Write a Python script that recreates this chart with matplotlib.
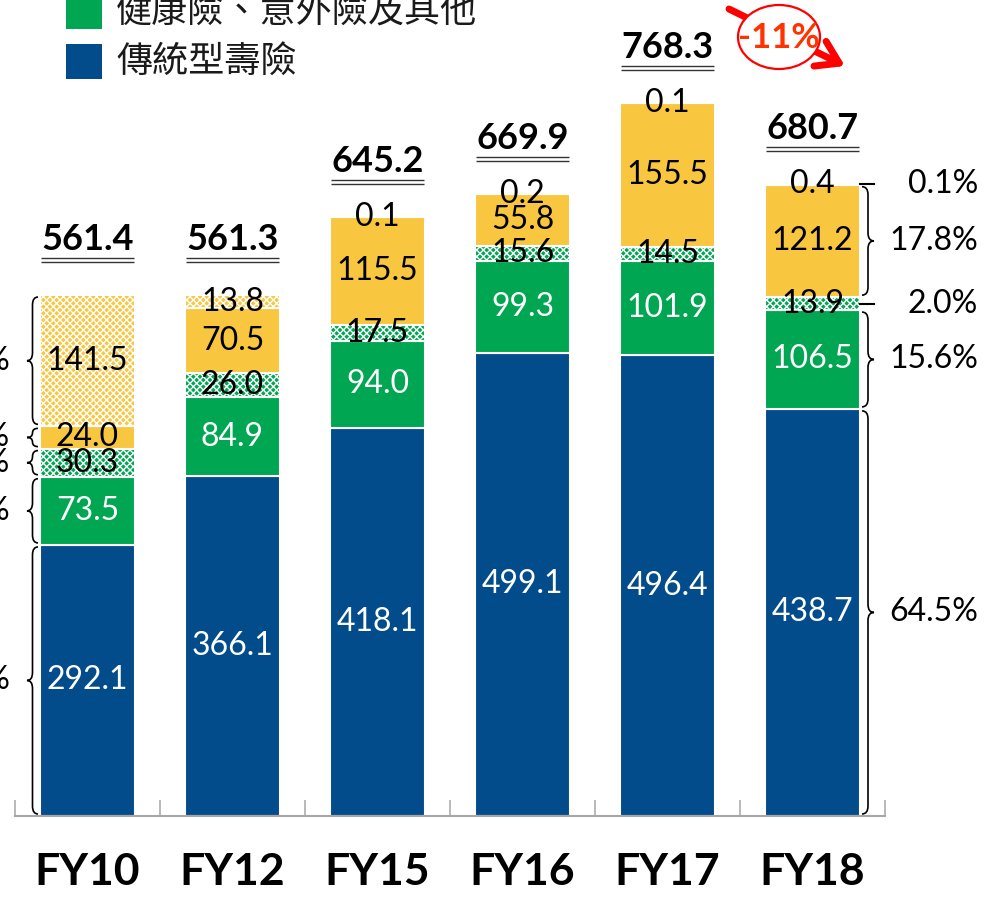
import matplotlib
matplotlib.use("Agg")
import numpy as np
import matplotlib.pyplot as plt
from matplotlib.patches import Ellipse, Rectangle, PathPatch
from matplotlib.path import Path

# fiscal years on the x axis
years = ["FY10", "FY12", "FY15", "FY16", "FY17", "FY18"]

# stacked segments, bottom -> top
traditional = [292.1, 366.1, 418.1, 499.1, 496.4, 438.7]     # 傳統型壽險
health = [73.5, 84.9, 94.0, 99.3, 101.9, 106.5]              # 健康險、意外險及其他
health_hatched = [30.3, 26.0, 17.5, 15.6, 14.5, 13.9]
invest = [24.0, 70.5, 115.5, 55.8, 155.5, 121.2]
invest_hatched = [141.5, 13.8, 0.1, 0.2, 0.1, 0.4]

totals = [561.4, 561.3, 645.2, 669.9, 768.3, 680.7]

# share labels beside the first and last bars (bottom -> top)
fy10_shares = ["52.0%", "13.1%", "5.4%", "4.3%", "25.2%"]
fy18_shares = ["64.5%", "15.6%", "2.0%", "17.8%", "0.1%"]

change_label = "-11%"

BLUE = "#034C8C"
GREEN = "#00A651"
YELLOW = "#F9C63F"
GRAY = "#A6A6A6"

plt.rcParams["font.family"] = ["Lato", "Noto Sans CJK TC", "DejaVu Sans"]
plt.rcParams["hatch.linewidth"] = 1.0

# layout in image pixels
W, H = 1001, 898
AX_L, AX_R = 15, 885
AX_BOTTOM = 816
PX_PER_UNIT = 0.928
YMAX = AX_BOTTOM / PX_PER_UNIT
XU = len(years) / (AX_R - AX_L)   # data x per pixel
YU = 1 / PX_PER_UNIT               # data y per pixel
BAR_W = 95 * XU


def fig_xy(px, py):
    return px / W, 1 - py / H


def brace(ax, x, y0, y1, width, r=8 * YU):
    # curly brace from y0 to y1, tip pointing to the side of width's sign
    r = min(r, (y1 - y0) / 4)
    xm = x + width / 2
    ym = (y0 + y1) / 2
    verts = [(x, y1), (xm, y1), (xm, y1 - r),
             (xm, ym + r), (xm, ym), (x + width, ym),
             (xm, ym), (xm, ym - r),
             (xm, y0 + r), (xm, y0), (x, y0)]
    codes = [Path.MOVETO, Path.CURVE3, Path.CURVE3,
             Path.LINETO, Path.CURVE3, Path.CURVE3,
             Path.CURVE3, Path.CURVE3,
             Path.LINETO, Path.CURVE3, Path.CURVE3]
    ax.add_patch(PathPatch(Path(verts, codes), fill=False, lw=1.2,
                           edgecolor="black", clip_on=False))


fig = plt.figure(figsize=(W / 100, H / 100), dpi=100)
ax = fig.add_axes([AX_L / W, 1 - AX_BOTTOM / H, (AX_R - AX_L) / W, AX_BOTTOM / H])

x = np.arange(len(years))
series = [
    (traditional, BLUE, None, "white"),
    (health, GREEN, None, "white"),
    (health_hatched, GREEN, "xxxxx", "black"),
    (invest, YELLOW, None, "black"),
    (invest_hatched, YELLOW, "xxxxx", "black"),
]

bottom = np.zeros(len(years))
for vals, color, hatch, txt_color in series:
    vals = np.array(vals)
    ax.bar(x, vals, BAR_W, bottom=bottom, color=color, edgecolor="white",
           linewidth=1.5, hatch=hatch)
    for xi, b, v in zip(x, bottom, vals):
        ax.text(xi, b + v / 2, f"{v:.1f}", ha="center", va="center",
                fontsize=23, color=txt_color)
    bottom = bottom + vals

# totals with double underline
for xi, t in zip(x, totals):
    ax.text(xi, t + 56 * YU, f"{t:.1f}", ha="center", va="center",
            fontsize=26, fontweight="bold")
    for off in (37, 33):
        ax.plot([xi - 0.32, xi + 0.32], [t + off * YU] * 2, color="#333333",
                lw=1.0, solid_capstyle="butt")

# segment boundaries for brace annotations
stack = np.vstack([traditional, health, health_hatched, invest, invest_hatched])
tops = np.cumsum(stack, axis=0)
bots = tops - stack

# FY10: braces on the left (labels mostly cut off by the frame)
left_edge = x[0] - BAR_W / 2
base = left_edge - 2 * XU
for i, share in enumerate(fy10_shares):
    y0, y1 = bots[i, 0] + 2 * YU, tops[i, 0] - 2 * YU
    brace(ax, base, y0, y1, -11 * XU)
    ax.text(base - 28 * XU, (y0 + y1) / 2, share, ha="right", va="center",
            fontsize=23)

# FY18: braces / dashes on the right
right_edge = x[-1] + BAR_W / 2
base = right_edge + 2 * XU
tip = base + 12 * XU
for i, share in enumerate(fy18_shares):
    if stack[i, -1] < 20:
        ym = bots[i, -1] + stack[i, -1] / 2
        ax.plot([base - 2 * XU, tip], [ym, ym], color="black", lw=1.5,
                clip_on=False)
    else:
        y0, y1 = bots[i, -1] + 2 * YU, tops[i, -1] - 2 * YU
        brace(ax, base, y0, y1, 12 * XU)
        ym = (y0 + y1) / 2
    ax.text(tip + 104 * XU, ym, share, ha="right", va="center", fontsize=23)

# -11% callout between FY17 and FY18
ax.annotate("", xy=fig_xy(845, 66), xytext=fig_xy(729, 9),
            xycoords="figure fraction", textcoords="figure fraction",
            arrowprops=dict(arrowstyle="->, head_length=0.7, head_width=0.45",
                            color="#FF0000", lw=5, mutation_scale=22,
                            shrinkA=0, shrinkB=0))
cx, cy = fig_xy(779, 37)
fig.add_artist(Ellipse((cx, cy), 82 / W, 64 / H, transform=fig.transFigure,
                       facecolor="white", edgecolor="#FF0000", lw=1.6))
fig.text(cx, cy - 1 / H, change_label, ha="center", va="center", fontsize=25,
         fontweight="bold", color="#FF3300")

# legend (top part cut by the frame)
legend_items = [("健康險、意外險及其他", GREEN, 12), ("傳統型壽險", BLUE, 62)]
for label, color, yc in legend_items:
    lx, ly = fig_xy(66, yc + 17)
    fig.add_artist(Rectangle((lx, ly), 36 / W, 35 / H, transform=fig.transFigure,
                             facecolor=color, edgecolor="none"))
    tx, ty = fig_xy(116, yc)
    fig.text(tx, ty, label, ha="left", va="center", fontsize=26,
             family=["Noto Sans CJK TC", "DejaVu Sans"], color="#1A1A1A")

ax.set_xlim(-0.5, len(years) - 0.5)
ax.set_ylim(0, YMAX)
ax.set_xticks(x)
ax.set_xticklabels(years, fontsize=32, fontweight="bold")
ax.set_xticks(np.arange(-0.5, len(years), 1), minor=True)
ax.tick_params(axis="x", which="major", length=0, pad=26)
ax.tick_params(axis="x", which="minor", direction="in", length=11.5,
               width=1.1, color=GRAY)
ax.set_yticks([])
for side in ("left", "top", "right"):
    ax.spines[side].set_visible(False)
ax.spines["bottom"].set_color(GRAY)
ax.spines["bottom"].set_linewidth(1.5)
ax.set_facecolor("none")

fig.savefig("out.png", dpi=100)
